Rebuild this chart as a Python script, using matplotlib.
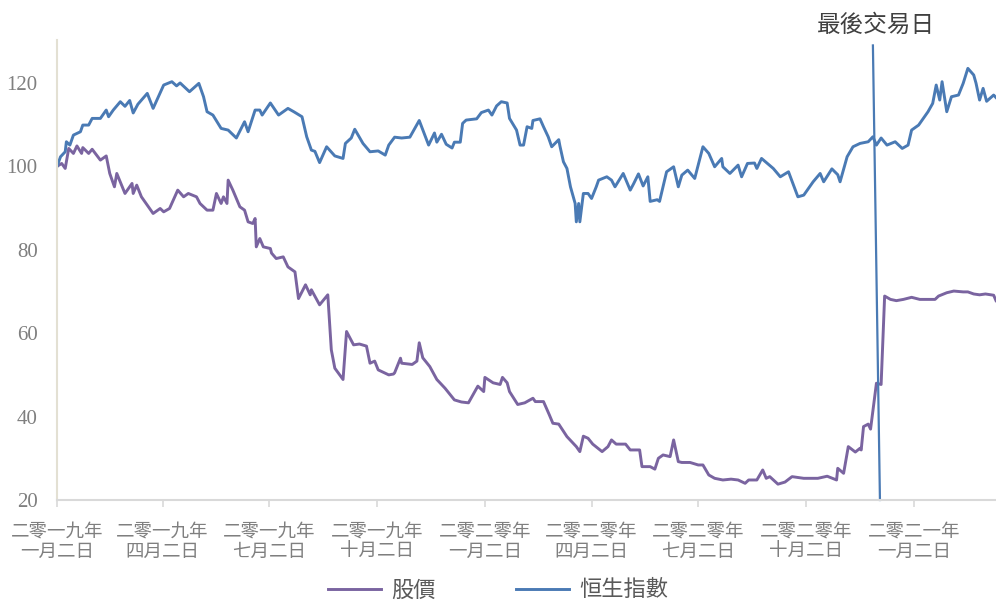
import numpy as np
import pandas as pd
import matplotlib
matplotlib.use("Agg")
import matplotlib.pyplot as plt
import matplotlib.dates as mdates

# --- data (rebased to 100 on 2 Jan 2019), x given as days since start ---
start_date = "2019-01-02"
last_trade_day = 699  # 最後交易日, days since start

hsi_days = [0, 3, 7, 8, 11, 14, 20, 22, 27, 30, 37, 42, 44, 48, 54, 58, 62, 65, 69, 77,
            82, 91, 98, 102, 105, 113, 121, 125, 128, 133, 140, 146, 153, 160, 163, 169,
            173, 175, 182, 189, 197, 202, 209, 213, 217, 220, 224, 230, 237, 244, 246,
            251, 254, 261, 267, 274, 280, 283, 288, 294, 301, 309, 317, 322, 324, 328,
            332, 337, 339, 344, 346, 349, 358, 362, 368, 371, 375, 379, 384, 386, 392,
            395, 398, 401, 405, 406, 412, 415, 419, 422, 428, 429, 432, 435, 438, 442,
            443, 445, 446, 449, 453, 456, 460, 462, 469, 473, 476, 483, 489, 492, 496,
            500, 504, 506, 512, 514, 520, 526, 530, 533, 538, 544, 551, 556, 561, 567,
            568, 574, 581, 584, 589, 595, 597, 601, 611, 617, 624, 632, 637, 645, 651,
            654, 661, 666, 668, 674, 679, 685, 692, 696, 699, 703, 708, 715, 721, 726,
            729, 735, 739, 743, 747, 750, 753, 755, 759, 763, 769, 773, 777, 782, 784,
            787, 790, 793, 799, 801]
hsi_values = [100, 102.3, 103.5, 105.9, 105.1, 107.5, 108.3, 109.9, 109.9, 111.5, 111.5,
              113.5, 111.9, 113.5, 115.5, 114.4, 115.8, 112.8, 114.9, 117.5, 113.9, 119.5,
              120.3, 119.3, 120.0, 117.9, 119.9, 116.7, 113.1, 112.3, 109.1, 108.7, 106.8,
              110.7, 108.3, 113.5, 113.5, 112.3, 115.2, 112.3, 113.9, 113.1, 111.9, 107.1,
              103.9, 103.6, 100.9, 104.7, 102.5, 101.9, 105.5, 106.8, 108.9, 105.5, 103.5,
              103.7, 102.7, 105.1, 107.0, 106.8, 107.0, 111.0, 105.1, 108.0, 105.8, 107.7,
              105.3, 104.4, 105.8, 105.8, 110.3, 111.1, 111.4, 112.9, 113.5, 112.3, 114.5,
              115.5, 115.2, 111.5, 108.7, 105.1, 105.1, 109.5, 109.1, 111.0, 111.4, 109.5,
              107.1, 104.7, 106.4, 104.9, 101.1, 99.5, 95.1, 91.1, 86.7, 91.1, 86.7, 93.5,
              93.5, 92.3, 95.1, 96.7, 97.5, 96.7, 95.1, 98.3, 94.3, 95.9, 98.2, 95.3, 97.5,
              91.6, 92.0, 91.6, 98.7, 99.9, 95.1, 97.9, 99.1, 97.1, 104.7, 103.1, 99.9,
              101.9, 99.9, 98.3, 100.3, 97.5, 100.7, 100.8, 99.5, 101.9, 99.5, 97.5, 98.7,
              92.7, 93.1, 96.3, 98.3, 96.3, 99.4, 98.0, 96.3, 102.3, 104.7, 105.5, 105.9,
              107.1, 105.1, 106.8, 105.1, 105.9, 104.3, 105.1, 108.7, 109.9, 111.5, 113.1,
              115.1, 119.5, 115.9, 120.3, 113.1, 116.7, 117.1, 119.9, 123.5, 121.9, 119.9,
              115.9, 118.7, 115.6, 117.1, 116.5]

price_days = [0, 4, 7, 10, 14, 17, 21, 22, 27, 30, 37, 42, 45, 49, 51, 58, 64, 65, 68, 72,
              82, 88, 91, 96, 103, 108, 112, 119, 122, 128, 133, 136, 140, 142, 145, 146,
              150, 156, 160, 163, 167, 169, 170, 173, 176, 182, 183, 187, 193, 197, 203,
              206, 212, 216, 217, 224, 231, 234, 237, 244, 247, 253, 258, 264, 267, 271,
              274, 283, 287, 288, 293, 294, 303, 307, 309, 312, 318, 324, 331, 339, 345,
              351, 359, 364, 365, 372, 378, 380, 384, 386, 393, 399, 406, 408, 415, 420,
              423, 428, 435, 443, 446, 449, 453, 457, 465, 470, 473, 477, 485, 489, 497,
              499, 506, 510, 513, 517, 523, 526, 530, 533, 540, 547, 551, 556, 561, 568,
              575, 581, 587, 590, 597, 602, 605, 608, 615, 621, 627, 637, 644, 649, 657,
              665, 666, 671, 675, 681, 685, 686, 688, 692, 694, 699, 703, 706, 711, 716,
              722, 729, 736, 749, 752, 759, 765, 773, 777, 782, 787, 792, 799, 801]
price_values = [100, 100.7, 99.5, 104.3, 103.1, 104.9, 103.1, 104.5, 103.1, 104.1, 101.5,
                102.5, 98.3, 95.1, 98.3, 93.5, 95.9, 93.5, 95.5, 92.7, 88.7, 89.9, 89.1,
                89.9, 94.3, 92.7, 93.5, 92.7, 91.1, 89.5, 89.5, 93.5, 91.1, 92.7, 91.1,
                96.7, 94.3, 90.3, 89.5, 86.7, 86.3, 87.5, 80.7, 82.7, 80.7, 80.3, 79.2,
                77.9, 78.3, 75.9, 74.7, 68.3, 71.6, 69.2, 70.4, 66.8, 69.2, 56.0, 51.6,
                48.9, 60.4, 57.2, 57.4, 56.9, 52.8, 53.3, 51.2, 50.0, 50.2, 50.5, 54.0,
                52.8, 52.5, 53.3, 57.7, 54.1, 52.0, 48.9, 46.8, 44.0, 43.5, 43.3, 47.3,
                46.0, 49.4, 48.1, 47.7, 49.4, 48.1, 46.0, 42.9, 43.3, 44.4, 43.6, 43.6,
                40.4, 38.4, 38.2, 35.2, 32.8, 31.6, 35.3, 34.8, 33.4, 31.6, 32.8, 34.4,
                33.4, 33.4, 32.0, 32.0, 28.0, 28.0, 27.4, 30.0, 30.8, 30.4, 34.4, 29.2,
                29.0, 29.0, 28.4, 28.4, 26.0, 25.2, 24.8, 25.0, 24.8, 24.0, 24.8, 24.8,
                27.2, 25.2, 25.6, 23.8, 24.3, 25.6, 25.2, 25.2, 25.2, 25.7, 24.8, 27.6,
                26.4, 32.8, 31.5, 32.4, 32.0, 37.6, 38.2, 37.0, 48.0, 47.7, 68.9, 68.1,
                67.8, 68.1, 68.6, 68.1, 68.1, 68.9, 69.7, 70.1, 69.9, 69.9, 69.4, 69.2,
                69.4, 69.1, 67.8]

tick_dates = ["2019-01-02", "2019-04-02", "2019-07-02", "2019-10-02", "2020-01-02",
              "2020-04-02", "2020-07-02", "2020-10-02", "2021-01-02"]
tick_labels = ["二零一九年\n一月二日", "二零一九年\n四月二日", "二零一九年\n七月二日",
               "二零一九年\n十月二日", "二零二零年\n一月二日", "二零二零年\n四月二日",
               "二零二零年\n七月二日", "二零二零年\n十月二日", "二零二一年\n一月二日"]
y_ticks = [20, 40, 60, 80, 100, 120]

BLUE = "#4a7ab4"
PURPLE = "#7a64a0"
CJK = ["Noto Sans CJK TC", "DejaVu Sans"]


def to_dates(days):
    return pd.Timestamp(start_date) + pd.to_timedelta(days, unit="D")


fig = plt.figure(figsize=(9.96, 6.0), dpi=100)
ax = fig.add_axes([57 / 996, 100 / 600, 939 / 996, 460 / 600])

ax.plot(to_dates(price_days), price_values, color=PURPLE, lw=2.1, label="股價")
ax.plot(to_dates(hsi_days), hsi_values, color=BLUE, lw=2.1, label="恒生指數")

# last trading day marker (slightly slanted, like the original shape)
t_top = to_dates([last_trade_day - 3])[0]
t_bot = to_dates([last_trade_day + 3])[0]
ax.plot([t_top, t_bot], [129, 20], color=BLUE, lw=1.6, clip_on=False)
ax.text(to_dates([last_trade_day])[0], 133.8, "最後交易日", family=CJK, fontsize=17,
        color="#404040", ha="center", va="center", fontweight="light")

ax.set_xlim(to_dates([0])[0], to_dates([801])[0])
ax.set_ylim(20, 130.3)

ax.set_xticks(pd.to_datetime(tick_dates))
ax.set_xticklabels(tick_labels, family=CJK, fontsize=13.3, color="#7f7f7f",
                   linespacing=1.17, fontweight="light")
ax.set_yticks(y_ticks)
ax.set_yticklabels([str(v) for v in y_ticks], family="Liberation Serif", fontsize=15,
                   color="#7f7f7f")

ax.tick_params(axis="x", length=5, width=1.2, color="#d9d9d9", pad=11)
ax.tick_params(axis="y", length=0, pad=14)

for side in ["top", "right"]:
    ax.spines[side].set_visible(False)
ax.spines["left"].set_color("#e3e0d3")
ax.spines["left"].set_linewidth(1.5)
ax.spines["bottom"].set_color("#d9d9d9")
ax.spines["bottom"].set_linewidth(1.5)

leg = fig.legend(loc="center", bbox_to_anchor=(0.5, 10 / 600), ncol=2, frameon=False,
                 prop={"family": CJK, "size": 16, "weight": "light"},
                 handlelength=2.4, columnspacing=3.6, handletextpad=0.45)
for t in leg.get_texts():
    t.set_color("#595959")

fig.savefig("out.png", dpi=100)
